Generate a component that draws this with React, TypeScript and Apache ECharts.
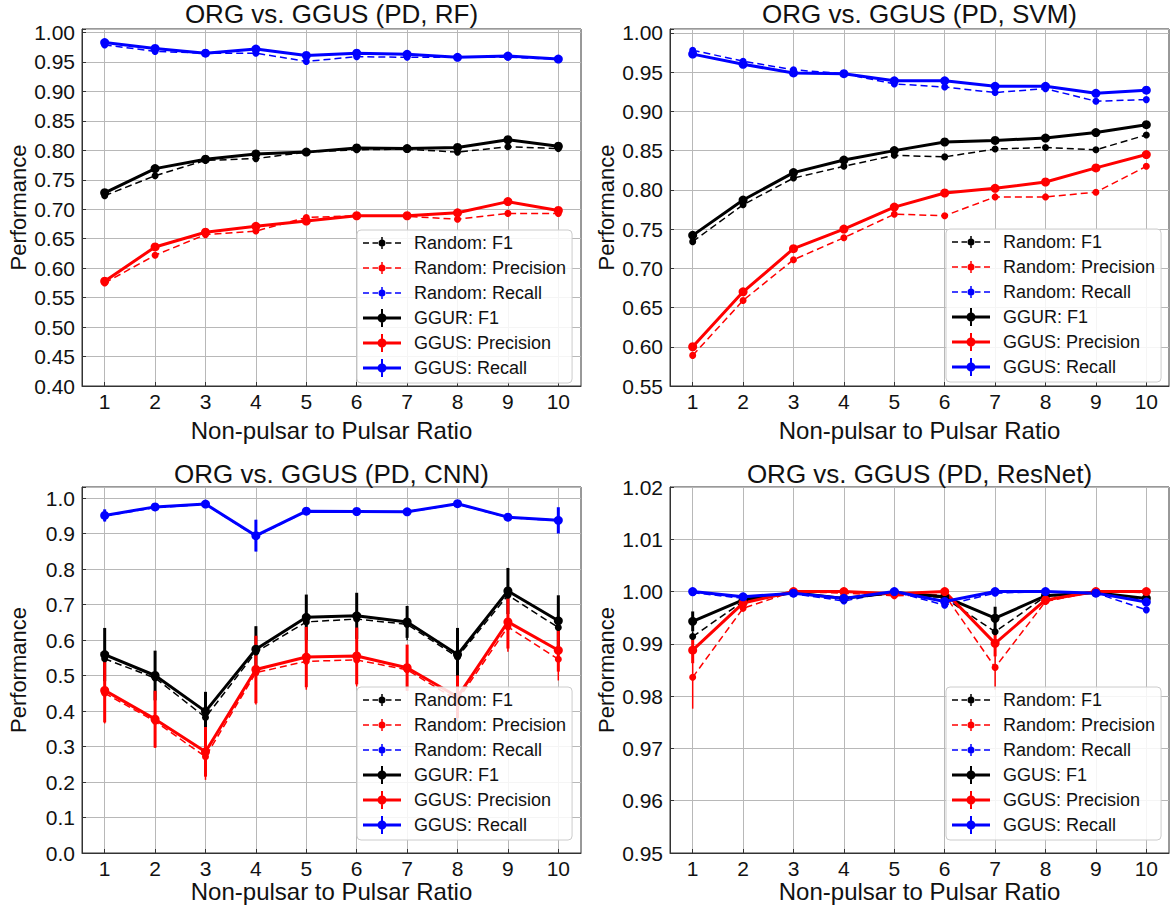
import React, { useEffect, useRef } from 'react';
import * as echarts from 'echarts';

const FONT = '"Liberation Sans", Arial, Helvetica, sans-serif';

// x categories: Non-pulsar to Pulsar Ratio
const RATIOS = [1, 2, 3, 4, 5, 6, 7, 8, 9, 10];

// ---------- Panel 1: RF ----------
const rfRandF1 = [0.723, 0.757, 0.783, 0.786, 0.797, 0.801, 0.802, 0.797, 0.806, 0.803];
const rfRandF1Err = [0.003, 0.003, 0.002, 0.003, 0.002, 0.002, 0.002, 0.002, 0.002, 0.002];
const rfRandPrec = [0.575, 0.622, 0.657, 0.663, 0.686, 0.689, 0.688, 0.683, 0.693, 0.693];
const rfRandPrecErr = [0.003, 0.003, 0.003, 0.003, 0.003, 0.002, 0.002, 0.002, 0.002, 0.002];
const rfRandRec = [0.979, 0.968, 0.965, 0.965, 0.951, 0.959, 0.958, 0.958, 0.958, 0.955];
const rfRandRecErr = [0.002, 0.002, 0.002, 0.002, 0.002, 0.002, 0.002, 0.002, 0.002, 0.002];
const rfGgurF1 = [0.728, 0.769, 0.785, 0.794, 0.797, 0.804, 0.803, 0.805, 0.818, 0.807];
const rfGgurF1Err = [0.003, 0.003, 0.002, 0.002, 0.002, 0.002, 0.002, 0.002, 0.003, 0.002];
const rfGgusPrec = [0.578, 0.636, 0.661, 0.671, 0.68, 0.689, 0.689, 0.694, 0.713, 0.698];
const rfGgusPrecErr = [0.003, 0.003, 0.003, 0.003, 0.002, 0.002, 0.002, 0.002, 0.003, 0.002];
const rfGgusRec = [0.983, 0.973, 0.965, 0.972, 0.961, 0.965, 0.963, 0.958, 0.96, 0.955];
const rfGgusRecErr = [0.002, 0.002, 0.002, 0.002, 0.002, 0.002, 0.002, 0.002, 0.002, 0.002];

// ---------- Panel 2: SVM ----------
const svmRandF1 = [0.734, 0.781, 0.815, 0.83, 0.844, 0.842, 0.852, 0.854, 0.851, 0.87];
const svmRandF1Err = [0.002, 0.002, 0.002, 0.002, 0.002, 0.002, 0.002, 0.002, 0.002, 0.002];
const svmRandPrec = [0.589, 0.659, 0.711, 0.739, 0.769, 0.767, 0.791, 0.791, 0.797, 0.83];
const svmRandPrecErr = [0.003, 0.003, 0.002, 0.002, 0.002, 0.002, 0.002, 0.002, 0.002, 0.002];
const svmRandRec = [0.978, 0.964, 0.953, 0.948, 0.935, 0.931, 0.924, 0.929, 0.913, 0.915];
const svmRandRecErr = [0.002, 0.002, 0.002, 0.002, 0.002, 0.002, 0.002, 0.002, 0.002, 0.002];
const svmGgurF1 = [0.742, 0.787, 0.822, 0.838, 0.85, 0.861, 0.863, 0.866, 0.873, 0.883];
const svmGgurF1Err = [0.002, 0.002, 0.002, 0.002, 0.002, 0.002, 0.002, 0.002, 0.002, 0.002];
const svmGgusPrec = [0.6, 0.67, 0.725, 0.75, 0.778, 0.796, 0.802, 0.81, 0.828, 0.845];
const svmGgusPrecErr = [0.003, 0.003, 0.003, 0.002, 0.003, 0.003, 0.002, 0.002, 0.003, 0.003];
const svmGgusRec = [0.973, 0.96, 0.949, 0.948, 0.939, 0.939, 0.932, 0.932, 0.923, 0.927];
const svmGgusRecErr = [0.002, 0.002, 0.002, 0.002, 0.002, 0.002, 0.002, 0.002, 0.002, 0.002];

// ---------- Panel 3: CNN ----------
const cnnRandF1 = [0.547, 0.493, 0.382, 0.566, 0.651, 0.659, 0.644, 0.552, 0.726, 0.635];
const cnnRandF1Err = [0.07, 0.065, 0.05, 0.06, 0.06, 0.06, 0.045, 0.07, 0.06, 0.065];
const cnnRandPrec = [0.45, 0.371, 0.271, 0.508, 0.54, 0.544, 0.516, 0.43, 0.637, 0.546];
const cnnRandPrecErr = [0.085, 0.075, 0.065, 0.09, 0.08, 0.075, 0.06, 0.06, 0.07, 0.06];
const cnnRandRec = [0.949, 0.973, 0.982, 0.892, 0.962, 0.961, 0.96, 0.983, 0.945, 0.936];
const cnnRandRecErr = [0.015, 0.005, 0.004, 0.04, 0.01, 0.006, 0.008, 0.005, 0.01, 0.033];
const cnnGgurF1 = [0.559, 0.5, 0.399, 0.574, 0.664, 0.668, 0.651, 0.559, 0.738, 0.654];
const cnnGgurF1Err = [0.075, 0.07, 0.055, 0.065, 0.064, 0.065, 0.045, 0.075, 0.065, 0.072];
const cnnGgusPrec = [0.458, 0.377, 0.285, 0.517, 0.552, 0.555, 0.522, 0.44, 0.651, 0.571];
const cnnGgusPrecErr = [0.09, 0.08, 0.07, 0.095, 0.085, 0.08, 0.065, 0.06, 0.075, 0.06];
const cnnGgusRec = [0.951, 0.975, 0.983, 0.894, 0.963, 0.962, 0.961, 0.984, 0.946, 0.937];
const cnnGgusRecErr = [0.017, 0.005, 0.004, 0.045, 0.01, 0.006, 0.008, 0.005, 0.01, 0.037];

// ---------- Panel 4: ResNet ----------
const resRandF1 = [0.9914, 0.9981, 0.9998, 0.9987, 0.9998, 0.9988, 0.9923, 0.9991, 0.9998, 0.9984];
const resRandF1Err = [0.001, 0.0003, 0.0001, 0.0002, 0.0001, 0.0003, 0.0012, 0.0002, 0.0001, 0.0003];
const resRandPrec = [0.9836, 0.9968, 1.0, 0.9997, 0.9992, 0.9994, 0.9855, 0.9981, 1.0, 0.9998];
const resRandPrecErr = [0.006, 0.0006, 0.0001, 0.0002, 0.0002, 0.0003, 0.0043, 0.0004, 0.0001, 0.0002];
const resRandRec = [0.9998, 0.9987, 0.9996, 0.9982, 1.0, 0.9974, 0.9997, 1.0, 0.9997, 0.9965];
const resRandRecErr = [0.0002, 0.0002, 0.0001, 0.0003, 0.0001, 0.0005, 0.0002, 0.0001, 0.0001, 0.0006];
const resGgusF1 = [0.9943, 0.9984, 0.9998, 0.9987, 0.9998, 0.999, 0.9949, 0.9992, 0.9998, 0.9987];
const resGgusF1Err = [0.0019, 0.0003, 0.0001, 0.0002, 0.0001, 0.0003, 0.0022, 0.0002, 0.0001, 0.0003];
const resGgusPrec = [0.9888, 0.9978, 1.0, 1.0, 0.9996, 1.0, 0.9901, 0.9984, 1.0, 1.0];
const resGgusPrecErr = [0.0025, 0.0004, 0.0001, 0.0001, 0.0002, 0.0001, 0.0025, 0.0003, 0.0001, 0.0001];
const resGgusRec = [1.0, 0.999, 0.9997, 0.9987, 1.0, 0.9981, 1.0, 1.0, 0.9997, 0.998];
const resGgusRecErr = [0.0001, 0.0002, 0.0001, 0.0002, 0.0001, 0.0004, 0.0001, 0.0001, 0.0001, 0.0004];

const TITLES = [
  'ORG vs. GGUS (PD, RF)',
  'ORG vs. GGUS (PD, SVM)',
  'ORG vs. GGUS (PD, CNN)',
  'ORG vs. GGUS (PD, ResNet)',
];
const X_NAME = 'Non-pulsar to Pulsar Ratio';
const Y_NAME = 'Performance';

const BLACK = '#000000';
const RED = '#ff0000';
const BLUE = '#0000ff';

type S = { name: string; values: number[]; errs: number[]; color: string; dashed: boolean };

const mk = (names: string[], vals: number[][], errs: number[][]): S[] => {
  const colors = [BLACK, RED, BLUE, BLACK, RED, BLUE];
  return names.map((n, i) => ({ name: n, values: vals[i], errs: errs[i], color: colors[i], dashed: i < 3 }));
};

const NAMES_A = ['Random: F1', 'Random: Precision', 'Random: Recall', 'GGUR: F1', 'GGUS: Precision', 'GGUS: Recall'];
const NAMES_B = ['Random: F1', 'Random: Precision', 'Random: Recall', 'GGUS: F1', 'GGUS: Precision', 'GGUS: Recall'];

const PANELS = [
  {
    series: mk(NAMES_A,
      [rfRandF1, rfRandPrec, rfRandRec, rfGgurF1, rfGgusPrec, rfGgusRec],
      [rfRandF1Err, rfRandPrecErr, rfRandRecErr, rfGgurF1Err, rfGgusPrecErr, rfGgusRecErr]),
    yMin: 0.4, yMax: 1.006, yInt: 0.05, dec: 2,
    grid: { left: 82, top: 29, width: 499, height: 357 },
    legend: { left: 357, top: 230 }, xGap: 32, titleTop: 1,
  },
  {
    series: mk(NAMES_A,
      [svmRandF1, svmRandPrec, svmRandRec, svmGgurF1, svmGgusPrec, svmGgusRec],
      [svmRandF1Err, svmRandPrecErr, svmRandRecErr, svmGgurF1Err, svmGgusPrecErr, svmGgusRecErr]),
    yMin: 0.55, yMax: 1.005, yInt: 0.05, dec: 2,
    grid: { left: 670, top: 29, width: 499, height: 357 },
    legend: { left: 946, top: 229 }, xGap: 32, titleTop: 1,
  },
  {
    series: mk(NAMES_A,
      [cnnRandF1, cnnRandPrec, cnnRandRec, cnnGgurF1, cnnGgusPrec, cnnGgusRec],
      [cnnRandF1Err, cnnRandPrecErr, cnnRandRecErr, cnnGgurF1Err, cnnGgusPrecErr, cnnGgusRecErr]),
    yMin: 0, yMax: 1.031, yInt: 0.1, dec: 1,
    grid: { left: 82, top: 487, width: 499, height: 366 },
    legend: { left: 357, top: 687 }, xGap: 22, titleTop: 461,
  },
  {
    series: mk(NAMES_B,
      [resRandF1, resRandPrec, resRandRec, resGgusF1, resGgusPrec, resGgusRec],
      [resRandF1Err, resRandPrecErr, resRandRecErr, resGgusF1Err, resGgusPrecErr, resGgusRecErr]),
    yMin: 0.95, yMax: 1.02, yInt: 0.01, dec: 2,
    grid: { left: 670, top: 487, width: 499, height: 366 },
    legend: { left: 946, top: 687 }, xGap: 22, titleTop: 461,
  },
];

const ICON_SOLID =
  'path://M0,7.5H38V10.5H0Z M18,0H20V18H18Z M23.5,9A4.5,4.5,0,1,1,14.5,9A4.5,4.5,0,1,1,23.5,9Z';
const ICON_DASHED =
  'path://M0,8.25H6V9.75H0Z M9.5,8.25H15V9.75H9.5Z M23,8.25H28.5V9.75H23Z M32,8.25H38V9.75H32Z M18.25,3H19.75V15H18.25Z M22.5,9A3.5,3.5,0,1,1,15.5,9A3.5,3.5,0,1,1,22.5,9Z';

function buildOption() {
  const grid: any[] = [];
  const xAxis: any[] = [];
  const yAxis: any[] = [];
  const title: any[] = [];
  const legend: any[] = [];
  const series: any[] = [];

  PANELS.forEach((p, i) => {
    grid.push({ ...p.grid, show: true, borderColor: '#333', borderWidth: 1, backgroundColor: '#fff' });
    title.push({
      text: TITLES[i],
      left: p.grid.left + p.grid.width / 2,
      top: p.titleTop,
      textAlign: 'center',
      padding: 0,
      textStyle: { fontSize: 26, fontWeight: 'normal', color: '#111', fontFamily: FONT },
    });
    xAxis.push({
      type: 'value', gridIndex: i, min: 0.55, max: 10.45,
      name: X_NAME, nameLocation: 'middle', nameGap: p.xGap,
      nameTextStyle: { fontSize: 24, color: '#111', fontFamily: FONT },
      axisLine: { show: true, lineStyle: { color: '#333', width: 1 } },
      axisTick: { show: true, inside: true, length: 4, customValues: RATIOS, lineStyle: { color: '#333' } },
      axisLabel: { customValues: RATIOS, fontSize: 21, color: '#111', margin: 5, fontFamily: FONT },
      splitLine: { show: true, lineStyle: { color: '#b8b8b8', width: 1 } },
    });
    const dec = p.dec;
    const yInt = p.yInt;
    yAxis.push({
      type: 'value', gridIndex: i, min: p.yMin, max: p.yMax, interval: yInt,
      name: Y_NAME, nameLocation: 'middle', nameGap: 53,
      nameTextStyle: { fontSize: 22, color: '#111', fontFamily: FONT },
      axisLine: { show: true, lineStyle: { color: '#333', width: 1 } },
      axisTick: { show: true, inside: true, length: 4, lineStyle: { color: '#333' } },
      axisLabel: {
        fontSize: 21, color: '#111', margin: 7, fontFamily: FONT,
        formatter: (v: number) => {
          const k = v / yInt;
          if (Math.abs(k - Math.round(k)) > 1e-6) return '';
          return v.toFixed(dec);
        },
      },
      splitLine: { show: true, lineStyle: { color: '#b8b8b8', width: 1 } },
    });

    legend.push({
      left: p.legend.left, top: p.legend.top, orient: 'vertical',
      padding: [4, 6, 6, 6], itemGap: 7, itemWidth: 38, itemHeight: 18,
      symbolKeepAspect: true,
      backgroundColor: 'rgba(255,255,255,0.85)', borderColor: '#cccccc', borderWidth: 1, borderRadius: 4,
      selectedMode: false,
      textStyle: { fontSize: 18, color: '#111', fontFamily: FONT, lineHeight: 18, padding: [0, 0, 0, 8] },
      data: p.series.map((s) => ({
        name: s.name,
        icon: s.dashed ? ICON_DASHED : ICON_SOLID,
        itemStyle: { color: s.color, borderWidth: 0, borderColor: s.color },
      })),
    });

    p.series.forEach((s) => {
      const lw = s.dashed ? 1.5 : 3;
      series.push({
        type: 'custom', name: s.name + ' (error)', xAxisIndex: i, yAxisIndex: i,
        silent: true, encode: { x: 0, y: 1 },
        data: RATIOS.map((x, j) => [x, s.values[j], s.errs[j]]),
        renderItem: (params: any, api: any) => {
          const x = api.value(0);
          const y = api.value(1);
          const e = api.value(2);
          const a = api.coord([x, y - e]);
          const b = api.coord([x, y + e]);
          return {
            type: 'line',
            shape: { x1: a[0], y1: a[1], x2: b[0], y2: b[1] },
            style: { stroke: s.color, lineWidth: lw },
          };
        },
      });
      series.push({
        type: 'line', name: s.name, xAxisIndex: i, yAxisIndex: i,
        data: RATIOS.map((x, j) => [x, s.values[j]]),
        symbol: 'circle', symbolSize: s.dashed ? 7 : 9, showSymbol: true,
        lineStyle: { color: s.color, width: lw, type: s.dashed ? [7, 4] : 'solid' },
        itemStyle: { color: s.color, borderWidth: 0 },
        emphasis: { disabled: true },
      });
    });
  });

  return { animation: false, backgroundColor: '#ffffff', title, grid, xAxis, yAxis, legend, series };
}

export default function App() {
  const ref = useRef<HTMLDivElement>(null);
  useEffect(() => {
    if (!ref.current) return;
    const chart = echarts.init(ref.current, undefined, { renderer: 'svg' });
    chart.setOption(buildOption() as any);
    return () => chart.dispose();
  }, []);
  return (
    <div
      ref={ref}
      style={{ position: 'fixed', left: 0, top: 0, width: 1171, height: 905, background: '#fff' }}
    />
  );
}
